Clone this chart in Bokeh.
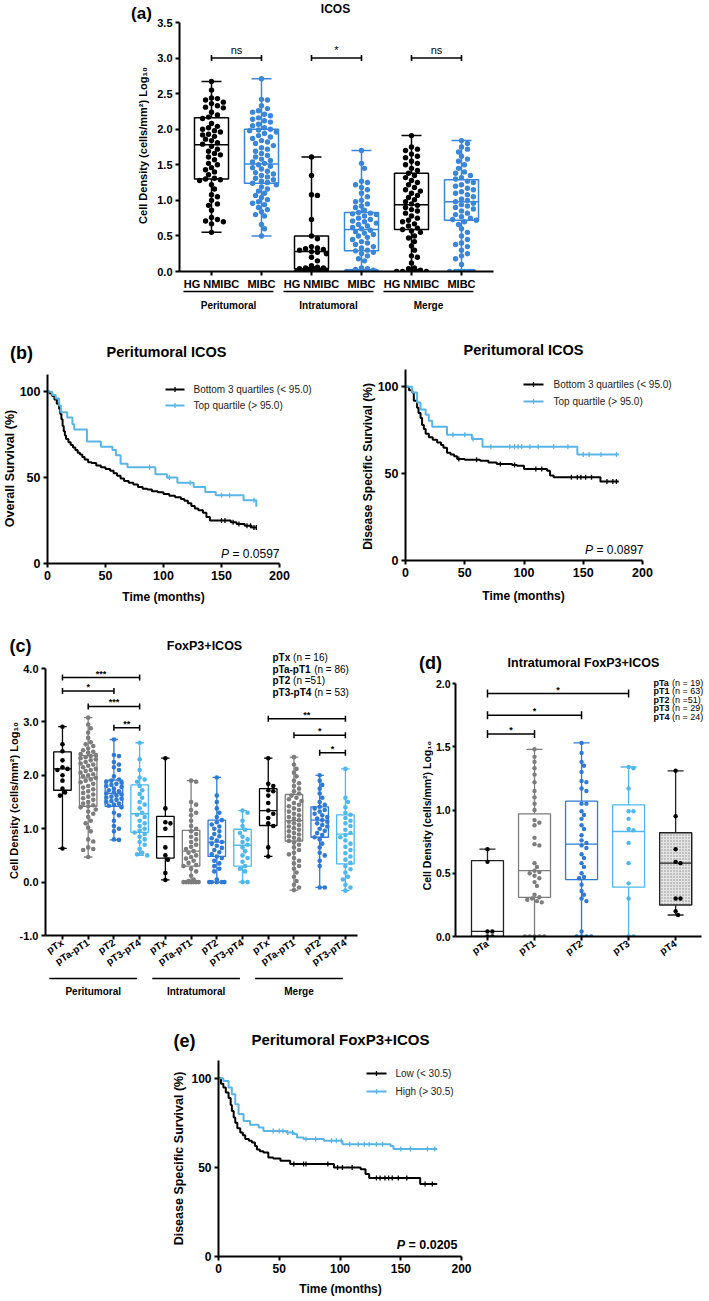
import math
import numpy as np
from bokeh.plotting import figure
from bokeh.layouts import column, row
from bokeh.models import Range1d, FixedTicker, NumeralTickFormatter, ColumnDataSource
from bokeh.embed import file_html
from bokeh.resources import INLINE
from bokeh.core.properties import value

FONT = "Liberation Sans"

# ---------------- DATA: panel (a) ----------------
a_groups = ["Peritumoral", "Intratumoral", "Merge"]
a_cats = ["HG NMIBC", "MIBC", "HG NMIBC", "MIBC", "HG NMIBC", "MIBC"]
a_min = [0.55, 0.50, 0.0, 0.0, 0.0, 0.0]
a_q1 = [1.30, 1.24, 0.04, 0.29, 0.59, 0.72]
a_med = [1.78, 1.51, 0.28, 0.59, 0.94, 0.98]
a_q3 = [2.16, 2.00, 0.50, 0.83, 1.38, 1.29]
a_max = [2.67, 2.71, 1.61, 1.70, 1.91, 1.84]
a_sig = ["ns", "*", "ns"]
a_sig_y = [3.0, 3.0, 3.0]

a_pts_1 = [2.67, 2.55, 2.44, 2.43, 2.41, 2.38, 2.36, 2.33, 2.31, 2.30, 2.24, 2.20, 2.17, 2.15, 2.08, 2.04,
           2.02, 2.00, 1.98, 1.96, 1.93, 1.92, 1.90, 1.86, 1.84, 1.81, 1.79, 1.76, 1.72, 1.69, 1.66, 1.64,
           1.61, 1.57, 1.52, 1.50, 1.46, 1.43, 1.40, 1.36, 1.31, 1.30, 1.29, 1.28, 1.22, 1.16, 1.08, 1.05,
           1.00, 0.95, 0.93, 0.86, 0.76, 0.73, 0.71, 0.70, 0.67, 0.55]
a_pts_2 = [2.71, 2.42, 2.41, 2.33, 2.29, 2.26, 2.24, 2.21, 2.19, 2.16, 2.14, 2.12, 2.10, 2.07, 2.05, 2.02,
           2.00, 1.99, 1.98, 1.96, 1.94, 1.91, 1.89, 1.87, 1.84, 1.82, 1.80, 1.77, 1.74, 1.72, 1.69, 1.66,
           1.63, 1.61, 1.58, 1.56, 1.54, 1.52, 1.50, 1.48, 1.46, 1.44, 1.41, 1.39, 1.37, 1.35, 1.33, 1.31,
           1.29, 1.27, 1.25, 1.24, 1.22, 1.19, 1.16, 1.13, 1.10, 1.07, 1.04, 1.01, 0.98, 0.96, 0.94, 0.90,
           0.87, 0.84, 0.80, 0.78, 0.66, 0.60, 0.50]
a_pts_3 = [1.61, 1.35, 1.08, 1.07, 0.73, 0.50, 0.46, 0.35, 0.33, 0.32, 0.31, 0.30, 0.28, 0.27, 0.25, 0.20,
           0.15, 0.08, 0.06, 0.05, 0.05, 0.04, 0.04, 0.03, 0.02, 0.02, 0.0, 0.0, 0.0, 0.0, 0.0, 0.0, 0.0,
           0.0, 0.0, 0.0]
a_pts_4 = [1.70, 1.52, 1.45, 1.27, 1.25, 1.22, 1.18, 1.15, 1.10, 1.05, 1.00, 0.98, 0.95, 0.92, 0.90, 0.86,
           0.83, 0.82, 0.81, 0.80, 0.78, 0.75, 0.73, 0.71, 0.70, 0.68, 0.66, 0.64, 0.62, 0.60, 0.58, 0.56,
           0.54, 0.52, 0.50, 0.48, 0.45, 0.42, 0.40, 0.38, 0.35, 0.33, 0.30, 0.29, 0.27, 0.25, 0.22, 0.18,
           0.15, 0.05, 0.04, 0.03, 0.02, 0.0, 0.0, 0.0, 0.0, 0.0, 0.0, 0.0, 0.0, 0.0, 0.0, 0.0, 0.0, 0.0,
           0.0, 0.0, 0.0]
a_pts_5 = [1.91, 1.75, 1.72, 1.70, 1.65, 1.62, 1.60, 1.55, 1.52, 1.50, 1.45, 1.42, 1.38, 1.35, 1.32, 1.28,
           1.25, 1.22, 1.18, 1.15, 1.13, 1.10, 1.07, 1.04, 1.01, 0.98, 0.95, 0.93, 0.90, 0.87, 0.85, 0.82,
           0.78, 0.75, 0.72, 0.70, 0.67, 0.64, 0.61, 0.59, 0.57, 0.55, 0.50, 0.47, 0.42, 0.36, 0.30, 0.22,
           0.20, 0.12, 0.05, 0.04, 0.02, 0.0, 0.0, 0.0, 0.0, 0.0, 0.0]
a_pts_6 = [1.84, 1.80, 1.75, 1.72, 1.68, 1.62, 1.58, 1.55, 1.50, 1.45, 1.40, 1.38, 1.35, 1.32, 1.30, 1.27,
           1.25, 1.22, 1.20, 1.17, 1.15, 1.12, 1.10, 1.08, 1.05, 1.02, 1.00, 0.98, 0.96, 0.94, 0.92, 0.90,
           0.88, 0.85, 0.82, 0.80, 0.77, 0.75, 0.73, 0.72, 0.70, 0.66, 0.60, 0.55, 0.50, 0.45, 0.40, 0.38,
           0.35, 0.30, 0.25, 0.22, 0.18, 0.10, 0.0, 0.0, 0.0, 0.0, 0.0, 0.0, 0.0, 0.0]

# ---------------- DATA: panel (b) Kaplan-Meier ----------------
os_low_t = [0, 2, 4, 6, 8, 10, 11, 12, 13, 14, 15, 16, 18, 20, 22, 24, 26, 28, 30, 32, 35, 38, 42, 46, 50,
            54, 57, 60, 63, 66, 70, 74, 78, 82, 86, 90, 95, 100, 105, 110, 115, 118, 121, 124, 127, 130,
            134, 137, 140, 150, 158, 163, 170, 176, 180]
os_low_s = [100, 99, 97.5, 95.5, 93, 90, 87, 84, 80, 77, 74.5, 72.5, 70.5, 69, 67.5, 66, 64.5, 63.5, 62,
            60.5, 59, 58.5, 57, 56, 55, 54, 52.5, 51, 49.5, 48, 47, 46, 44.5, 43.5, 43, 42, 41.5, 40.5,
            39.5, 38.5, 37.5, 36.5, 35, 33.5, 32, 31, 29.5, 27, 25, 25, 24, 23, 22, 21, 21]
os_low_cens = [150, 153, 160, 165, 172, 175, 178, 180]
os_high_t = [0, 4, 7, 10, 11.5, 17, 21.5, 23, 34, 46, 56, 59, 63, 69, 93, 103, 112, 126, 136, 145, 169, 180]
os_high_s = [100, 98, 96, 92, 88, 85, 81, 78, 71, 68, 66, 63, 58, 56, 52, 50, 47, 44.5, 41.6, 39.7, 36.8, 33]
os_high_cens = [88, 105, 123, 150, 157, 178]

dss_low_t = [0, 3, 5.6, 7, 9.8, 11, 12.7, 14, 15.5, 17, 19.7, 23, 26.7, 30, 32, 35, 38, 41, 43.6, 50, 63,
             70, 77, 90, 94, 100, 119.5, 122, 125, 164.5, 180]
dss_low_s = [100, 98, 96.7, 92, 88, 85, 82, 78, 75.7, 73, 71, 69.5, 68, 66.5, 65, 62, 61, 60, 58.4, 58,
             57.5, 56.5, 55.6, 55, 54.6, 52.7, 51.7, 48.9, 47.9, 45.5, 45.5]
dss_low_cens = [45, 60, 80, 92, 110, 115, 140, 145, 148, 152, 157, 170, 175, 178]
dss_high_t = [0, 5.6, 9.8, 12.7, 17, 19.7, 22.5, 35, 56, 65, 145, 180]
dss_high_s = [100, 96.7, 91, 87, 84, 80.5, 77, 72.4, 70, 65.5, 61, 61]
dss_high_cens = [40, 50, 57, 72, 88, 92, 95, 98, 105, 112, 125, 137, 150, 155, 165, 178]
b_labels = ["Bottom 3 quartiles (< 95.0)", "Top quartile (> 95.0)"]
b_pvals = ["0.0597", "0.0897"]

# ---------------- DATA: panel (c) ----------------
c_groups = ["Peritumoral", "Intratumoral", "Merge"]
c_cats = ["pTx", "pTa-pT1", "pT2", "pT3-pT4"] * 3
c_min = [0.63, 0.47, 0.79, 0.50, 0.04, 0.0, 0.0, 0.0, 0.48, -0.15, -0.10, -0.16]
c_q1 = [1.72, 1.42, 1.42, 0.93, 0.45, 0.30, 0.48, 0.30, 1.06, 0.77, 0.84, 0.34]
c_med = [2.12, 1.95, 1.66, 1.28, 0.85, 0.58, 0.75, 0.69, 1.34, 1.15, 1.16, 0.90]
c_q3 = [2.44, 2.37, 1.91, 1.82, 1.23, 0.97, 1.16, 0.99, 1.75, 1.64, 1.41, 1.26]
c_max = [2.91, 3.08, 2.67, 2.61, 2.32, 1.90, 1.96, 1.34, 2.32, 2.34, 2.00, 2.12]
c_pts = [
    [2.91, 2.58, 2.45, 2.28, 2.15, 2.12, 2.10, 2.0, 1.9, 1.75, 1.68, 1.62, 0.63],
    [3.08, 2.95, 2.88, 2.80, 2.70, 2.62, 2.58, 2.55, 2.50, 2.47, 2.44, 2.42, 2.40, 2.38, 2.36, 2.34, 2.32,
     2.30, 2.28, 2.25, 2.22, 2.20, 2.18, 2.15, 2.12, 2.10, 2.08, 2.05, 2.02, 2.0, 1.98, 1.95, 1.92, 1.90,
     1.87, 1.84, 1.80, 1.77, 1.74, 1.70, 1.67, 1.64, 1.60, 1.57, 1.54, 1.50, 1.47, 1.44, 1.42, 1.40, 1.36,
     1.32, 1.28, 1.22, 1.15, 1.10, 1.02, 0.95, 0.80, 0.76, 0.65, 0.62, 0.60, 0.47],
    [2.67, 2.38, 2.36, 2.25, 2.20, 2.15, 2.10, 1.98, 1.92, 1.90, 1.88, 1.86, 1.84, 1.82, 1.80, 1.78, 1.75,
     1.72, 1.70, 1.68, 1.66, 1.64, 1.62, 1.60, 1.58, 1.56, 1.54, 1.52, 1.50, 1.47, 1.45, 1.43, 1.40, 1.30,
     1.25, 1.15, 1.05, 1.00, 0.95, 0.80, 0.79],
    [2.61, 2.30, 2.10, 1.96, 1.92, 1.88, 1.80, 1.72, 1.65, 1.58, 1.50, 1.45, 1.38, 1.30, 1.26, 1.22, 1.15,
     1.10, 1.05, 1.00, 0.96, 0.93, 0.90, 0.85, 0.80, 0.75, 0.70, 0.62, 0.55, 0.52, 0.50],
    [2.32, 1.38, 1.12, 1.10, 1.0, 0.65, 0.50, 0.42, 0.17, 0.04],
    [1.90, 1.88, 1.50, 1.45, 1.35, 1.30, 1.25, 1.15, 1.05, 1.00, 0.95, 0.90, 0.85, 0.80, 0.75, 0.70, 0.66,
     0.62, 0.58, 0.55, 0.50, 0.47, 0.44, 0.40, 0.36, 0.32, 0.30, 0.25, 0.20, 0.12, 0.05, 0.02, 0.0, 0.0,
     0.0, 0.0, 0.0, 0.0, 0.0],
    [1.96, 1.62, 1.50, 1.38, 1.30, 1.22, 1.16, 1.12, 1.08, 1.04, 1.00, 0.95, 0.90, 0.86, 0.82, 0.78, 0.75,
     0.72, 0.68, 0.64, 0.60, 0.56, 0.52, 0.48, 0.45, 0.40, 0.35, 0.30, 0.25, 0.20, 0.05, 0.0, 0.0, 0.0,
     0.0, 0.0],
    [1.34, 1.30, 1.15, 1.05, 0.98, 0.92, 0.85, 0.80, 0.75, 0.70, 0.65, 0.58, 0.50, 0.45, 0.38, 0.30, 0.25,
     0.20, 0.0, 0.0],
    [2.32, 1.84, 1.80, 1.72, 1.70, 1.62, 1.48, 1.34, 1.28, 1.20, 1.10, 1.05, 0.65, 0.48],
    [2.34, 2.20, 2.12, 2.05, 1.98, 1.90, 1.85, 1.80, 1.75, 1.70, 1.66, 1.62, 1.58, 1.55, 1.52, 1.48, 1.45,
     1.42, 1.38, 1.35, 1.32, 1.28, 1.25, 1.22, 1.19, 1.16, 1.13, 1.10, 1.07, 1.04, 1.01, 0.98, 0.95, 0.92,
     0.89, 0.86, 0.83, 0.80, 0.77, 0.74, 0.70, 0.65, 0.60, 0.55, 0.52, 0.45, 0.40, 0.35, 0.30, 0.25, 0.18,
     0.10, 0.02, -0.05, -0.10, -0.15],
    [2.00, 1.90, 1.82, 1.75, 1.66, 1.58, 1.50, 1.45, 1.41, 1.38, 1.35, 1.32, 1.28, 1.25, 1.22, 1.19, 1.16,
     1.13, 1.10, 1.07, 1.04, 1.00, 0.96, 0.92, 0.88, 0.84, 0.80, 0.72, 0.65, 0.55, 0.50, 0.40, 0.30, -0.10,
     -0.10],
    [2.12, 1.58, 1.50, 1.40, 1.30, 1.26, 1.20, 1.15, 1.10, 1.05, 0.98, 0.92, 0.88, 0.84, 0.78, 0.72, 0.66,
     0.60, 0.54, 0.48, 0.42, 0.36, 0.30, 0.24, 0.18, 0.10, 0.05, -0.05, -0.10, -0.16],
]
c_sig_x1 = [1, 1, 2, 3, 9, 10, 11]
c_sig_x2 = [4, 3, 4, 4, 12, 12, 12]
c_sig_y = [3.83, 3.58, 3.29, 2.89, 3.06, 2.75, 2.42]
c_sig_lab = ["***", "*", "***", "**", "**", "*", "*"]
c_leg_bold = ["pTx", "pTa-pT1", "pT2", "pT3-pT4"]
c_leg_norm = ["(n = 16)", "(n = 86)", "(n =51)", "(n = 53)"]

# ---------------- DATA: panel (d) ----------------
d_cats = ["pTa", "pT1", "pT2", "pT3", "pT4"]
d_min = [0.0, 0.0, 0.0, 0.0, 0.17]
d_q1 = [0.0, 0.31, 0.45, 0.39, 0.25]
d_med = [0.04, 0.52, 0.73, 0.83, 0.58]
d_q3 = [0.60, 0.97, 1.07, 1.04, 0.82]
d_max = [0.69, 1.48, 1.53, 1.34, 1.31]
d_pts = [
    [0.69, 0.59, 0.04, 0.04, 0.0, 0.0],
    [1.48, 1.42, 1.38, 1.33, 1.28, 1.22, 1.15, 1.10, 1.05, 1.00, 0.92, 0.90, 0.88, 0.78, 0.73, 0.72, 0.58,
     0.55, 0.52, 0.51, 0.50, 0.48, 0.46, 0.43, 0.40, 0.33, 0.31, 0.30, 0.29, 0.28, 0.27, 0.0, 0.0, 0.0, 0.0,
     0.0],
    [1.53, 1.45, 1.38, 1.35, 1.30, 1.23, 1.22, 1.17, 1.15, 1.05, 1.05, 0.99, 0.96, 0.93, 0.88, 0.85, 0.80,
     0.76, 0.74, 0.72, 0.70, 0.65, 0.62, 0.58, 0.55, 0.50, 0.47, 0.46, 0.41, 0.36, 0.33, 0.30, 0.28, 0.04,
     0.0, 0.0, 0.0, 0.0],
    [1.34, 1.33, 1.17, 0.99, 0.99, 0.93, 0.85, 0.84, 0.74, 0.58, 0.42, 0.30, 0.0, 0.0],
    [1.31, 0.95, 0.69, 0.59, 0.58, 0.30, 0.30, 0.20, 0.17],
]
d_sig_x1 = [1, 1, 1]
d_sig_x2 = [4, 3, 2]
d_sig_y = [1.92, 1.75, 1.60]
d_sig_lab = ["*", "*", "*"]
d_leg_bold = ["pTa", "pT1", "pT2", "pT3", "pT4"]
d_leg_norm = ["(n = 19)", "(n = 63)", "(n =51)", "(n = 29)", "(n = 24)"]

# ---------------- DATA: panel (e) ----------------
e_low_t = [0, 2, 4, 6, 8.3, 10, 11, 12.5, 13.8, 15.5, 17.9, 20, 22, 25, 27.5, 30, 31.6, 34, 37, 41, 45,
           51, 59, 95, 117, 121, 124, 166, 180]
e_low_s = [100, 97, 94.8, 92, 89, 85, 81.7, 78, 75, 72, 69.6, 68, 66, 65, 64, 62, 60, 59, 58.4, 55.6,
           55, 53.7, 51.9, 50, 49, 46.3, 44, 40.7, 40.7]
e_low_cens = [62, 70, 72, 90, 98, 102, 110, 130, 133, 137, 140, 143, 148, 155, 170, 176]
e_high_t = [0, 4, 8.3, 11, 13.8, 16.5, 20.6, 26, 33, 37, 56, 62, 64.6, 70, 86.7, 102, 141.7, 144, 180]
e_high_s = [100, 98.5, 94.8, 91, 85.4, 80, 76, 74, 72.4, 70.5, 69.6, 68.7, 66.8, 66, 65, 63, 62, 60.3, 60.3]
e_high_cens = [45, 50, 53, 57, 61, 72, 80, 93, 97, 101, 108, 115, 120, 124, 130, 135, 150, 158, 172, 178]
e_labels = ["Low (< 30.5)", "High (> 30.5)"]
e_pval = "0.0205"

# ---------------- STYLE ----------------
BLACK = "#000000"
BLUE_A = "#3a87d9"
GRAY = "#7d7d7d"
BLUE_C = "#2f7ad6"
LBLUE = "#4fb8ee"
KM_BLUE = "#5ab5e6"

W_N = {' ': 278, '(': 333, ')': 333, '=': 584, '<': 584, '>': 584, '.': 278, '-': 333, 'n': 556, 'P': 667}
W_B = {' ': 278, '(': 333, ')': 333, '=': 584, '.': 278, '-': 333, 'p': 611, 'T': 611, 'x': 556,
       'a': 556, 'P': 667}


def text_w(s, size, bold):
    tab = W_B if bold else W_N
    return sum(tab.get(ch, 556) for ch in s) * size / 1000.0


class Fr:
    def __init__(self, L, R, T, B, xr, yr):
        self.L, self.R, self.T, self.B, self.xr, self.yr = L, R, T, B, xr, yr

    def x(self, px):
        return self.xr[0] + (px - self.L) * (self.xr[1] - self.xr[0]) / (self.R - self.L)

    def y(self, py):
        return self.yr[1] - (py - self.T) * (self.yr[1] - self.yr[0]) / (self.B - self.T)

    def dy(self, n):
        return n * (self.yr[1] - self.yr[0]) / (self.B - self.T)

    def ppx(self):
        return (self.R - self.L) / (self.xr[1] - self.xr[0])

    def ppy(self):
        return (self.B - self.T) / (self.yr[1] - self.yr[0])

    def px(self, x):
        return self.L + (x - self.xr[0]) * self.ppx()


def make_fig(x0, y0, W, H, fr, xticks, yticks, tsize, ysize=None, yfmt=None, axw=2):
    p = figure(frame_width=fr.R - fr.L, frame_height=fr.B - fr.T,
               x_range=Range1d(*fr.xr), y_range=Range1d(*fr.yr),
               output_backend="svg", toolbar_location=None, frame_align=False,
               min_border_left=fr.L - x0, min_border_right=x0 + W - fr.R,
               min_border_top=fr.T - y0, min_border_bottom=y0 + H - fr.B)
    p.outline_line_color = None
    p.xgrid.visible = False
    p.ygrid.visible = False
    p.border_fill_color = "white"
    p.background_fill_color = "white"
    for ax in (p.xaxis[0], p.yaxis[0]):
        ax.axis_line_width = axw
        ax.axis_line_color = "black"
        ax.major_tick_line_width = axw
        ax.major_tick_line_color = "black"
        ax.major_tick_out = 4
        ax.major_tick_in = 0
        ax.minor_tick_line_color = None
        ax.major_label_text_font = FONT
        ax.major_label_text_font_style = "bold"
        ax.major_label_text_color = "black"
        ax.major_label_text_font_size = f"{tsize}px"
        ax.major_label_standoff = 3
    p.xaxis.ticker = FixedTicker(ticks=xticks)
    p.yaxis.ticker = FixedTicker(ticks=yticks)
    if ysize:
        p.yaxis.major_label_text_font_size = f"{ysize}px"
    if yfmt:
        p.yaxis.formatter = NumeralTickFormatter(format=yfmt)
    return p


def T(p, fr, px, py, s, size, style="bold", align="center", baseline="middle", angle=0.0, color="black"):
    p.text(x=[fr.x(px)], y=[fr.y(py)], text=[s], angle=angle,
           text_font=value(FONT), text_font_size=value(f"{size}px"), text_font_style=value(style),
           text_align=value(align), text_baseline=value(baseline), text_color=value(color),
           level="overlay")


def swarm_offsets(vals, ppy, ppx, d, limit):
    vals = np.asarray(vals, dtype=float)
    order = np.argsort(-vals, kind="stable")
    placed = []
    off = np.zeros(len(vals))
    step = d * 0.55
    nmax = max(1, int(limit // step))
    cands = [0.0]
    for k in range(1, nmax + 1):
        cands += [k * step, -k * step]
    for i in order:
        y = vals[i] * ppy
        best, best_score = 0.0, -1.0
        for c in cands:
            md = min((math.hypot(c - qx, y - qy) for qx, qy in placed if abs(y - qy) < d), default=1e9)
            if md >= d * 0.95:
                best = c
                break
            if md > best_score:
                best_score, best = md, c
        placed.append((best, y))
        off[i] = best / ppx
    return off


def draw_boxes(p, xs, mn, q1, md, q3, mx, colors, bw, cw, lw, hatch=None):
    xs = np.asarray(xs, dtype=float)
    src = ColumnDataSource(dict(x=xs, l=xs - bw / 2, r=xs + bw / 2, cl=xs - cw / 2, cr=xs + cw / 2,
                                mn=mn, q1=q1, md=md, q3=q3, mx=mx, c=colors))
    p.segment("x", "q3", "x", "mx", source=src, line_color="c", line_width=lw)
    p.segment("x", "mn", "x", "q1", source=src, line_color="c", line_width=lw)
    p.segment("cl", "mx", "cr", "mx", source=src, line_color="c", line_width=lw)
    p.segment("cl", "mn", "cr", "mn", source=src, line_color="c", line_width=lw)
    p.quad(left="l", right="r", bottom="q1", top="q3", source=src, fill_color="white", line_color="c",
           line_width=lw)
    if hatch is not None:
        hs = ColumnDataSource(dict(l=[xs[hatch] - bw / 2], r=[xs[hatch] + bw / 2], b=[q1[hatch]], t=[q3[hatch]]))
        p.quad(left="l", right="r", bottom="b", top="t", source=hs, fill_color="#e4e4e4",
               hatch_pattern="dot", hatch_color="#8a8a8a", hatch_scale=3, hatch_weight=1,
               line_color=colors[hatch], line_width=lw)
    p.segment("l", "md", "r", "md", source=src, line_color="c", line_width=lw)


def draw_points(p, fr, xs, pts, colors, d, limit):
    for x, vals, c in zip(xs, pts, colors):
        off = swarm_offsets(vals, fr.ppy(), fr.ppx(), d, limit)
        p.scatter(x=list(x + off), y=list(vals), size=d, fill_color=c, line_color=None)


def draw_sig(p, fr, x1s, x2s, ys, labs, lw, tick_px, size, gap_px, style="normal"):
    p.segment(x0=x1s, y0=ys, x1=x2s, y1=ys, line_color="black", line_width=lw)
    ylo = [y - fr.dy(tick_px) for y in ys]
    yhi = [y + fr.dy(tick_px) for y in ys]
    p.segment(x0=x1s, y0=ylo, x1=x1s, y1=yhi, line_color="black", line_width=lw)
    p.segment(x0=x2s, y0=ylo, x1=x2s, y1=yhi, line_color="black", line_width=lw)
    p.text(x=[(a + b) / 2 for a, b in zip(x1s, x2s)], y=[y + fr.dy(gap_px) for y in ys], text=labs,
           text_font=value(FONT), text_font_size=value(f"{size}px"), text_font_style=value(style),
           text_align=value("center"), text_baseline=value("middle"), text_color=value("black"))


def km(p, t, s, color, cens):
    t = np.asarray(t, float)
    s = np.asarray(s, float)
    p.step(x=list(t), y=list(s), mode="after", line_color=color, line_width=2)
    cy = [float(s[np.searchsorted(t, c, side="right") - 1]) for c in cens]
    p.scatter(x=cens, y=cy, marker="dash", angle=math.pi / 2, size=5, line_color=color, line_width=1.3)


def km_legend(p, fr, px1, px2, ptext, pys, labels, colors, size):
    for py, lab, c in zip(pys, labels, colors):
        y = fr.y(py)
        p.line([fr.x(px1), fr.x(px2)], [y, y], line_color=c, line_width=2, level="overlay")
        xm = fr.x((px1 + px2) / 2)
        p.line([xm, xm], [y - fr.dy(2.5), y + fr.dy(2.5)], line_color=c, line_width=1.3, level="overlay")
        T(p, fr, ptext, py, lab, size, style="normal", align="left", color="#222222")


def pval(p, fr, px_right, py, num, size, bold):
    rest = "= " + num
    w = text_w(rest, size, bold) + text_w(" ", size, bold)
    T(p, fr, px_right, py, rest, size, style="bold" if bold else "normal", align="right")
    T(p, fr, px_right - w, py, "P", size, style="bold italic" if bold else "italic", align="right")


def mixed_legend(p, fr, px, py0, dy, bolds, norms, size):
    for i, (b, n) in enumerate(zip(bolds, norms)):
        py = py0 + i * dy
        T(p, fr, px, py, b, size, align="left")
        T(p, fr, px + text_w(b + " ", size, True), py, n, size, style="normal", align="left")


# ================= PANEL (a) =================
FA = Fr(179, 493, 22, 271, (0.36, 6.64), (0, 3.5))
a_x = [1, 2, 3, 4, 5, 6]
pa = make_fig(0, 0, 709, 318, FA, a_x, [0, 0.5, 1, 1.5, 2, 2.5, 3, 3.5], 11, yfmt="0.0")
pa.xaxis.major_label_overrides = {i + 1: c for i, c in enumerate(a_cats)}
pa.xaxis.major_label_text_font_size = "11px"
pa.xaxis.major_label_standoff = 2
a_col = [BLACK, BLUE_A] * 3
draw_boxes(pa, a_x, a_min, a_q1, a_med, a_q3, a_max, a_col, 0.68, 0.4, 1.5)
draw_points(pa, FA, a_x, [a_pts_1, a_pts_2, a_pts_3, a_pts_4, a_pts_5, a_pts_6], a_col, 5.4, 17)
draw_sig(pa, FA, [1, 3, 5], [2, 4, 6], a_sig_y, a_sig, 1.6, 3, 11, 8)
for g, name in enumerate(a_groups):
    x1 = a_x[2 * g] - 0.56
    x2 = a_x[2 * g + 1] + 0.24
    pa.line([x1, x2], [FA.y(291)] * 2, line_color="black", line_width=1.5, level="overlay")
    T(pa, FA, FA.px((x1 + x2) / 2), 305, name, 10)
T(pa, FA, 142, 145, "Cell Density (cells/mm\u00b2) Log\u2081\u2080", 11, angle=math.pi / 2)
T(pa, FA, 335, 8, "ICOS", 12)
T(pa, FA, 141, 13, "(a)", 17)

# ================= PANEL (b) =================
FB1 = Fr(47, 279, 374, 563, (0, 200), (0, 110))
pb1 = make_fig(0, 318, 355, 290, FB1, [0, 50, 100, 150, 200], [0, 50, 100], 12.5)
km(pb1, os_low_t, os_low_s, BLACK, os_low_cens)
km(pb1, os_high_t, os_high_s, KM_BLUE, os_high_cens)
km_legend(pb1, FB1, 165, 184, 193, [389, 405], b_labels, [BLACK, KM_BLUE], 10)
pval(pb1, FB1, 279, 553, b_pvals[0], 12, False)
T(pb1, FB1, 163, 596, "Time (months)", 12)
T(pb1, FB1, 9, 468, "Overall Survival (%)", 12.5, angle=math.pi / 2)
T(pb1, FB1, 166, 351, "Peritumoral ICOS", 14.5)
T(pb1, FB1, 21, 352, "(b)", 18)

FB2 = Fr(405, 642, 369, 560, (0, 200), (0, 110))
pb2 = make_fig(355, 318, 354, 290, FB2, [0, 50, 100, 150, 200], [0, 50, 100], 12.5)
km(pb2, dss_low_t, dss_low_s, BLACK, dss_low_cens)
km(pb2, dss_high_t, dss_high_s, KM_BLUE, dss_high_cens)
km_legend(pb2, FB2, 523, 543, 553, [384, 401], b_labels, [BLACK, KM_BLUE], 10)
pval(pb2, FB2, 643, 549, b_pvals[1], 12, False)
T(pb2, FB2, 523, 595, "Time (months)", 12)
T(pb2, FB2, 367, 466, "Disease Specific Survival (%)", 12, angle=math.pi / 2)
T(pb2, FB2, 523, 349, "Peritumoral ICOS", 14.5)

# ================= PANEL (c) =================
FC = Fr(45, 357, 668, 935, (0.34, 12.47), (-1, 4))
c_x = list(range(1, 13))
pc = make_fig(0, 608, 360, 392, FC, c_x, [-1, 0, 1, 2, 3, 4], 10, ysize=11, yfmt="0.0")
pc.xaxis.major_label_overrides = {i + 1: c for i, c in enumerate(c_cats)}
pc.xaxis.major_label_orientation = math.radians(33)
pc.xaxis.major_label_standoff = 2
c_col = [BLACK, GRAY, BLUE_C, LBLUE] * 3
draw_boxes(pc, c_x, c_min, c_q1, c_med, c_q3, c_max, c_col, 0.68, 0.33, 1.3)
draw_points(pc, FC, c_x, c_pts, c_col, 4.6, 9)
draw_sig(pc, FC, c_sig_x1, c_sig_x2, c_sig_y, c_sig_lab, 1.5, 3, 9, 4, style="bold")
for g, name in enumerate(c_groups):
    x1 = c_x[4 * g] - 0.51
    x2 = c_x[4 * g + 3] - 0.1
    pc.line([x1, x2], [FC.y(978)] * 2, line_color="black", line_width=1.5, level="overlay")
    T(pc, FC, FC.px((x1 + x2) / 2), 991, name, 10)
mixed_legend(pc, FC, 272, 657, 11.7, c_leg_bold, c_leg_norm, 10)
T(pc, FC, 13, 800, "Cell Density (cells/mm\u00b2) Log\u2081\u2080", 11, angle=math.pi / 2)
T(pc, FC, 204, 645, "FoxP3+ICOS", 12.5)
T(pc, FC, 20, 645, "(c)", 18)

# ================= PANEL (d) =================
FD = Fr(455, 701, 683, 936, (0.32, 5.55), (0, 2))
d_x = [1, 2, 3, 4, 5]
pdd = make_fig(360, 608, 349, 392, FD, d_x, [0, 0.5, 1, 1.5, 2], 10, ysize=10.5, yfmt="0.0")
pdd.yaxis.major_tick_out = 3
pdd.yaxis.major_label_standoff = 2
pdd.xaxis.major_label_overrides = {i + 1: c for i, c in enumerate(d_cats)}
pdd.xaxis.major_label_orientation = math.radians(33)
pdd.xaxis.major_label_standoff = 2
d_col = ["#222222", GRAY, BLUE_C, LBLUE, "#222222"]
d_pcol = [BLACK, GRAY, BLUE_C, LBLUE, BLACK]
draw_boxes(pdd, d_x, d_min, d_q1, d_med, d_q3, d_max, d_col, 0.68, 0.34, 1.3, hatch=4)
draw_points(pdd, FD, d_x, d_pts, d_pcol, 4.4, 14)
draw_sig(pdd, FD, d_sig_x1, d_sig_x2, d_sig_y, d_sig_lab, 1.5, 4, 9, 4, style="bold")
mixed_legend(pdd, FD, 653, 682, 8.5, d_leg_bold, d_leg_norm, 9)
T(pdd, FD, 426, 815, "Cell Density (cells/mm\u00b2) Log\u2081\u2080", 10.5, angle=math.pi / 2)
T(pdd, FD, 583, 662, "Intratumoral FoxP3+ICOS", 12.5)
T(pdd, FD, 430, 662, "(d)", 18)

# ================= PANEL (e) =================
FE = Fr(218, 461, 1060, 1256, (0, 200), (0, 110))
pe = make_fig(0, 1000, 709, 300, FE, [0, 50, 100, 150, 200], [0, 50, 100], 12)
km(pe, e_low_t, e_low_s, BLACK, e_low_cens)
km(pe, e_high_t, e_high_s, KM_BLUE, e_high_cens)
km_legend(pe, FE, 366, 386, 395, [1073, 1091], e_labels, [BLACK, KM_BLUE], 10)
pval(pe, FE, 457, 1244, e_pval, 12.5, True)
T(pe, FE, 340, 1288, "Time (months)", 12)
T(pe, FE, 178, 1158, "Disease Specific Survival (%)", 12.5, angle=math.pi / 2)
T(pe, FE, 340, 1039, "Peritumoral FoxP3+ICOS", 15)
T(pe, FE, 184, 1040, "(e)", 18)

layout = column(pa, row(pb1, pb2), row(pc, pdd), pe)
open("out.html", "w").write(file_html(layout, INLINE))
